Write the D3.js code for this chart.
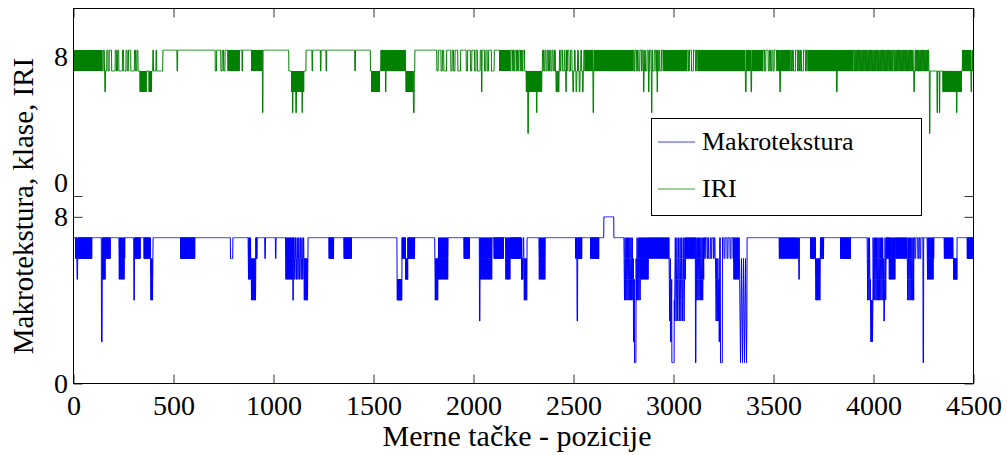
<!DOCTYPE html>
<html>
<head>
<meta charset="utf-8">
<script src="https://cdn.jsdelivr.net/npm/d3@7"></script>
<style>
  html, body { margin: 0; padding: 0; background: #fff; }
  svg { display: block; }
  text { font-family: "Liberation Serif", "Times New Roman", serif; fill: #000; }
</style>
</head>
<body>
<svg id="chart" width="1007" height="455"></svg>
<script>
// ---------------- DATA ----------------
const xTicks = [0, 500, 1000, 1500, 2000, 2500, 3000, 3500, 4000, 4500];
const yTickMarks = [0, 8, 9];
const yLabelValues = [0, 8, 9.66, 15.7];
const yLabelTexts = ["0", "8", "0", "8"];
const seriesNames = ["Makrotekstura", "IRI"];
const iriOffset = 8;

// Makrotekstura (blue): base level runs [startX, class]
const blueBase = [[0, 7], [2652, 8], [2702, 7]];
// fluctuation blocks [start, end, levels visited in turn, samples per level]
const blueBlocks = [
  [10, 93, [7, 6], 1], [143, 160, [7, 6, 7, 5], 1], [160, 185, [7, 6], 1],
  [227, 257, [7, 6, 5, 6], 1], [302, 335, [7, 6], 1], [352, 385, [7, 6], 1],
  [385, 398, [6, 5, 4, 5], 1], [535, 607, [7, 6], 1], [785, 797, [6], 1],
  [873, 888, [7, 6, 5, 6], 1], [888, 912, [6, 5, 4, 5], 1], [912, 918, [7, 6], 1],
  [1060, 1102, [7, 6, 5, 6], 1], [1102, 1152, [7, 6, 5, 6], 2], [1152, 1173, [6, 5, 4, 5], 1],
  [1277, 1302, [7, 6], 1], [1352, 1390, [7, 6], 1],
  [1618, 1643, [5, 4], 1], [1643, 1660, [7, 6], 1], [1660, 1672, [6, 5], 1], [1672, 1707, [7, 6], 1],
  [1807, 1825, [6, 5, 4, 5], 1], [1825, 1873, [7, 6, 5, 6], 1],
  [1952, 1980, [7, 6], 1], [2033, 2093, [7, 6, 5, 6], 1],
  [2102, 2150, [7, 6], 1], [2160, 2185, [7, 6, 5, 6], 1], [2185, 2240, [7, 6], 1],
  [2240, 2248, [6, 5], 1], [2252, 2268, [6, 5, 4, 5], 1],
  [2327, 2360, [7, 6, 5, 6], 1], [2510, 2543, [7, 6], 1], [2585, 2627, [7, 6], 1],
  [2752, 2835, [7, 6, 5, 4, 5, 6], 1], [2835, 2877, [7, 6, 5, 6], 1], [2877, 2977, [7, 6], 2],
  [2977, 3060, [7, 6, 5, 4, 3, 4, 5, 6], 1], [3060, 3110, [7, 6], 2],
  [3113, 3152, [7, 6, 5, 4, 5, 6], 1], [3152, 3210, [7, 6, 7, 7, 6, 7, 6, 6], 4],
  [3210, 3228, [6, 5, 4, 3, 4, 5], 1], [3248, 3300, [7, 6, 7, 7, 6, 7], 5],
  [3300, 3330, [7, 6, 5, 6], 1], [3330, 3368, [6, 5, 4, 3, 2, 1, 2, 3, 4, 5], 1],
  [3527, 3627, [7, 6], 2], [3685, 3710, [7, 6], 1], [3710, 3735, [6, 5, 4, 5], 1], [3735, 3752, [7, 6], 1],
  [3835, 3885, [7, 6], 1],
  [3968, 3985, [7, 6, 5, 4, 5, 6], 1], [3985, 3998, [4, 3, 2, 3], 1], [3998, 4065, [7, 6, 5, 4, 5, 6], 1],
  [4065, 4077, [7, 6], 1], [4077, 4110, [7, 6, 5, 6], 1], [4110, 4168, [7, 6], 2],
  [4168, 4202, [7, 6, 5, 4, 5, 6], 1], [4202, 4240, [7, 6, 7, 7, 6], 5],
  [4268, 4302, [7, 6, 5, 6], 1], [4352, 4400, [7, 6], 2], [4400, 4418, [6, 5], 1],
  [4468, 4500, [7, 6], 1]
];
// single drops [x, class, width in samples]
const blueSpikes = [
  [18, 5, 3], [140, 2, 4], [302, 4, 3], [957, 6, 3], [1010, 6, 3], [1097, 4, 3],
  [2030, 3, 3], [2518, 3, 3], [2800, 2, 3], [2805, 1, 8], [2985, 2, 4], [2992, 1, 12],
  [3110, 1, 3], [3228, 2, 3], [3235, 1, 10], [3627, 5, 3], [4052, 3, 3], [4248, 1, 3]
];

// IRI (green)
const greenBase = [
  [0, 8], [143, 7], [447, 8], [1077, 7], [1163, 8], [1485, 7], [1537, 8],
  [1657, 7], [1707, 8], [2258, 7], [2345, 8], [4280, 7], [4445, 8]
];
const greenBlocks = [
  [0, 143, [8, 7], 1], [143, 330, [7, 8, 7, 7, 8, 7, 8, 8, 7, 7, 7, 8, 7, 8, 7, 7], 6],
  [332, 365, [7, 6], 1], [377, 392, [7, 6], 1],
  [702, 770, [8, 7, 8, 8, 8, 7, 8, 7, 8, 8], 7], [770, 830, [8, 7], 2], [890, 943, [8, 7], 1],
  [1090, 1153, [7, 6], 1], [1490, 1530, [7, 6], 1], [1538, 1660, [8, 7], 2],
  [1662, 1700, [7, 6], 1],
  [1810, 2130, [8, 7, 8, 8, 7, 8, 7, 7, 8, 8, 8, 7, 8, 7, 8, 8, 7, 7, 8, 8, 8, 8, 7, 8], 7],
  [2130, 2180, [8, 7], 1],
  [2180, 2258, [8, 7, 8, 8, 7, 8, 7, 8, 8, 7], 4], [2262, 2343, [7, 6], 2], [2345, 2410, [8, 7], 6],
  [2410, 2430, [7, 6], 3], [2430, 2490, [8, 7, 8, 8, 7, 7, 8, 7], 4], [2493, 2552, [7, 6, 7, 8], 4],
  [2555, 2800, [8, 7], 2], [2800, 2950, [8, 7, 8, 8, 7, 8, 7, 7, 8], 4], [2952, 3070, [8, 7], 2],
  [3070, 3120, [8, 7, 8, 8, 7, 7, 8], 5], [3120, 3450, [8, 7], 2], [3450, 3520, [8, 7, 8, 8, 7, 8, 7], 6],
  [3520, 3585, [8, 7], 2], [3585, 3670, [8, 7, 8, 7, 7, 8, 8, 7], 5], [3670, 3900, [8, 7], 2],
  [3900, 4100, [8, 7], 3], [4100, 4280, [8, 7], 3], [4345, 4440, [7, 6], 2],
  [4445, 4500, [8, 7], 2]
];
const greenSpikes = [
  [157, 6, 3], [397, 8, 3], [413, 8, 3], [518, 7, 3], [843, 7, 3], [945, 5, 3],
  [1095, 5, 3], [1112, 5, 3], [1143, 5, 2], [1193, 7, 3], [1235, 7, 3], [1263, 7, 3],
  [1407, 7, 3], [1560, 6, 3], [1700, 5, 4], [2040, 6, 3], [2272, 4, 3], [2315, 5, 3],
  [2462, 6, 3], [2598, 5, 3], [2850, 6, 3], [2875, 6, 3], [2890, 5, 3], [2918, 6, 3],
  [3360, 6, 4], [3388, 6, 3], [3532, 6, 3], [3815, 6, 4], [4202, 6, 3],
  [4280, 4, 3], [4318, 5, 3], [4330, 5, 2], [4415, 5, 3], [4488, 6, 3]
];

// ---------------- BUILD ----------------
const N = 4500;
function build(base, blocks, spikes) {
  const vals = new Array(N + 1);
  let bi = 0;
  for (let i = 0; i <= N; i++) {
    while (bi + 1 < base.length && base[bi + 1][0] <= i) bi++;
    vals[i] = base[bi][1];
  }
  blocks.forEach(([s, e, lv, h]) => {
    for (let i = s; i < e && i <= N; i++) vals[i] = lv[Math.floor((i - s) / h) % lv.length];
  });
  spikes.forEach(([x, v, w]) => {
    for (let i = x; i < x + w && i <= N; i++) vals[i] = v;
  });
  return vals.map((v, i) => ({ x: i, v }));
}
const blueData = build(blueBase, blueBlocks, blueSpikes);
const greenData = build(greenBase, greenBlocks, greenSpikes);

// ---------------- DRAW ----------------
const svg = d3.select("#chart");
const L = 73.5, R = 973.5, T = 8.5, B = 383.5;
const x = d3.scaleLinear().domain([0, 4500]).range([L, R]);
const y = d3.scaleLinear().domain([0, 18]).range([B, T]);

svg.append("path").datum(greenData)
  .attr("d", d3.line().x(d => x(d.x)).y(d => y(d.v + iriOffset)))
  .attr("fill", "none").attr("stroke", "#008000").attr("stroke-width", 1);
svg.append("path").datum(blueData)
  .attr("d", d3.line().x(d => x(d.x)).y(d => y(d.v)))
  .attr("fill", "none").attr("stroke", "#0000ff").attr("stroke-width", 1);

// axes
const tickLen = 9;
const gB = svg.append("g").attr("transform", `translate(0,${B})`)
  .call(d3.axisBottom(x).tickValues(xTicks).tickSize(-tickLen).tickPadding(12).tickFormat(d3.format("d")));
const gT = svg.append("g").attr("transform", `translate(0,${T})`)
  .call(d3.axisTop(x).tickValues(xTicks).tickSize(-tickLen).tickFormat(""));
const gL = svg.append("g").attr("transform", `translate(${L},0)`)
  .call(d3.axisLeft(y).tickValues(yTickMarks).tickSize(-tickLen).tickFormat(""));
const gR = svg.append("g").attr("transform", `translate(${R},0)`)
  .call(d3.axisRight(y).tickValues(yTickMarks).tickSize(-tickLen).tickFormat(""));
[gB, gT, gL, gR].forEach(g => {
  g.select(".domain").remove();
  g.selectAll(".tick line").attr("stroke", "#333");
});
gB.selectAll("text").attr("font-size", 28).attr("font-family", "Liberation Serif").attr("fill", "#000");

svg.append("rect").attr("x", L).attr("y", T).attr("width", R - L).attr("height", B - T)
  .attr("fill", "none").attr("stroke", "#000").attr("stroke-width", 1);

// y tick labels
svg.append("g").selectAll("text").data(yLabelValues).join("text")
  .attr("x", 68).attr("y", d => y(d))
  .attr("dy", "0.34em")
  .attr("text-anchor", "end").attr("font-size", 28)
  .text((d, i) => yLabelTexts[i]);

// axis titles
svg.append("text").attr("x", 517).attr("y", 446).attr("text-anchor", "middle")
  .attr("font-size", 30).text("Merne tačke - pozicije");
svg.append("text").attr("transform", "translate(33,206) rotate(-90)")
  .attr("text-anchor", "middle").attr("font-size", 29).text("Makrotekstura, klase, IRI");

// legend
const lg = svg.append("g");
lg.append("rect").attr("x", 651.5).attr("y", 118.5).attr("width", 270).attr("height", 97)
  .attr("fill", "#fff").attr("stroke", "#000").attr("stroke-width", 1);
const legColors = ["#0000ff", "#008000"];
const legY = [142, 189];
seriesNames.forEach((name, i) => {
  lg.append("line").attr("x1", 658).attr("x2", 695).attr("y1", legY[i]).attr("y2", legY[i])
    .attr("stroke", legColors[i]).attr("stroke-width", 1).attr("opacity", 0.75);
  lg.append("text").attr("x", 702).attr("y", legY[i] + 8).attr("font-size", 26).text(name);
});
</script>
</body>
</html>
